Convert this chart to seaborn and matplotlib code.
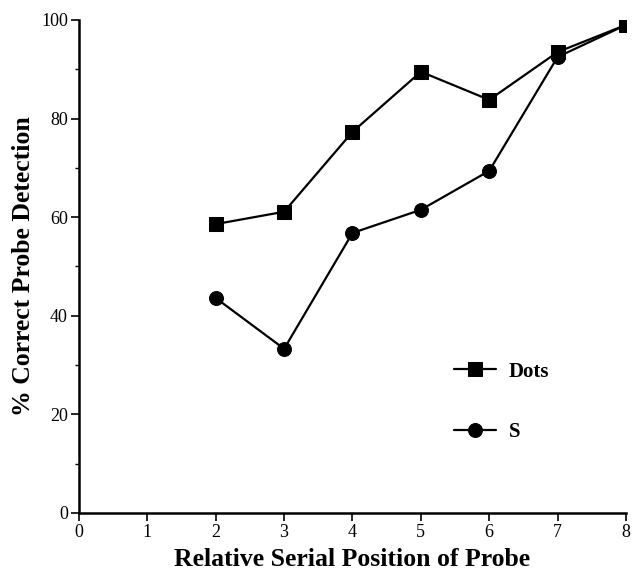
import pandas as pd
import matplotlib
matplotlib.use("Agg")
import matplotlib.pyplot as plt
import seaborn as sns

# Values
positions = [2, 3, 4, 5, 6, 7, 8]
dots_pct = [58.6, 61.1, 77.3, 89.5, 83.8, 93.5, 99.0]
s_pct = [43.6, 33.3, 56.8, 61.5, 69.4, 92.5, 99.0]
conditions = ["Dots", "S"]


def run() -> None:
    sns.set_style("white")
    plt.rcParams["font.family"] = ["Liberation Serif", "DejaVu Serif"]
    plt.rcParams["text.color"] = "black"
    plt.rcParams["axes.labelcolor"] = "black"
    plt.rcParams["xtick.color"] = "black"
    plt.rcParams["ytick.color"] = "black"

    df = pd.concat([
        pd.DataFrame({"position": positions, "pct": dots_pct, "condition": "Dots"}),
        pd.DataFrame({"position": positions, "pct": s_pct, "condition": "S"}),
    ])

    fig = plt.figure(figsize=(6.32, 5.71), dpi=100)
    ax = fig.add_axes([0.125, 0.1016, 0.8655, 0.8634])

    sns.lineplot(data=df, x="position", y="pct", hue="condition", style="condition",
                 hue_order=conditions, style_order=conditions,
                 palette=["black", "black"], markers={"Dots": "s", "S": "o"},
                 dashes=False, linewidth=1.6, markersize=10, markeredgecolor="black",
                 ax=ax, legend=True)

    # Plain text axes like the original
    ax.set_xlim(0, 8)
    ax.set_ylim(0, 100)
    ax.set_xticks(range(0, 9))
    ax.set_yticks(range(0, 101, 20))
    ax.set_yticks(range(10, 100, 20), minor=True)
    ax.tick_params(axis="both", which="major", direction="out", length=6, width=1.2,
                   labelsize=13, color="black", labelcolor="black",
                   bottom=True, left=True, pad=2)
    ax.tick_params(axis="y", which="minor", direction="out", length=3, width=1, left=True)
    for side in ["top", "right"]:
        ax.spines[side].set_visible(False)
    for side in ["left", "bottom"]:
        ax.spines[side].set_color("black")
        ax.spines[side].set_linewidth(1.8)

    ax.set_xlabel("Relative Serial Position of Probe", fontsize=18.5, fontweight="bold",
                  labelpad=5, color="black")
    ax.set_ylabel("% Correct Probe Detection", fontsize=18.5, fontweight="bold",
                  labelpad=4, color="black")

    # Legend placed inside lower right
    handles, labels = ax.get_legend_handles_labels()
    ax.legend(handles, labels, loc="center left", bbox_to_anchor=(0.652, 0.225),
              frameon=False, handlelength=2.0, handletextpad=0.6, labelspacing=1.95,
              prop={"family": "Liberation Serif", "weight": "bold", "size": 15})

    fig.savefig("out.png", dpi=100)


run()
